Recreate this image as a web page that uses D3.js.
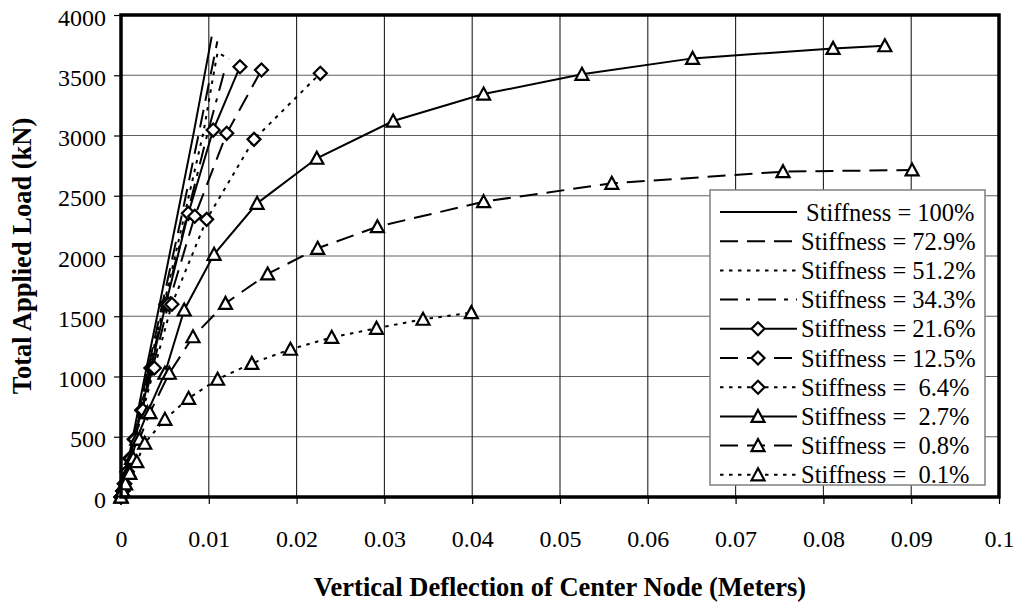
<!DOCTYPE html>
<html><head><meta charset="utf-8">
<script src="https://cdn.jsdelivr.net/npm/d3@7"></script>
<style>
body{margin:0;background:#fff}
svg text{font-family:"Liberation Serif","Times New Roman",Times,serif;fill:#000}
</style></head>
<body><svg id="c" width="1014" height="602" font-family="Liberation Serif"></svg>
<script>
// ---- data (deflection in meters, load in kN) ----
const xTicks = [0,0.01,0.02,0.03,0.04,0.05,0.06,0.07,0.08,0.09,0.1];
const xTickLabels = ["0","0.01","0.02","0.03","0.04","0.05","0.06","0.07","0.08","0.09","0.1"];
const yTicks = [0,500,1000,1500,2000,2500,3000,3500,4000];
const yTickLabels = ["0","500","1000","1500","2000","2500","3000","3500","4000"];
const seriesNames = ["Stiffness = 100%","Stiffness = 72.9%","Stiffness = 51.2%","Stiffness = 34.3%","Stiffness = 21.6%","Stiffness = 12.5%","Stiffness =  6.4%","Stiffness =  2.7%","Stiffness =  0.8%","Stiffness =  0.1%"];

const s100_x  = [0,0.0013,0.0029,0.0044,0.0064,0.0083,0.01033];
const s100_y  = [0,480,1070,1600,2330,3030,3820];
const s729_x  = [0,0.0014,0.0031,0.0047,0.0069,0.0089,0.01097];
const s729_y  = [0,480,1070,1600,2330,3030,3781];
const s512_x  = [0,0.0014,0.0032,0.0049,0.0072,0.0094,0.0104,0.0110,0.0123];
const s512_y  = [0,480,1070,1600,2330,3030,3450,3690,3635];
const s343_x  = [0,0.0015,0.0033,0.0050,0.0075,0.0099,0.0118];
const s343_y  = [0,480,1070,1600,2330,3030,3540];
const s216_x  = [0,0.0002,0.0004,0.0007,0.0010,0.0015,0.00236,0.0034,0.0051,0.00767,0.0105,0.01355];
const s216_y  = [0,50,110,210,320,480,720,1070,1600,2354,3045,3571];
const s125_x  = [0,0.0002,0.0004,0.0007,0.0010,0.0016,0.0024,0.0036,0.0054,0.0084,0.01204,0.0160];
const s125_y  = [0,50,110,210,320,480,720,1070,1600,2330,3018,3544];
const s064_x  = [0,0.0002,0.0004,0.0007,0.0011,0.0016,0.0025,0.0038,0.0058,0.00976,0.01515,0.0227];
const s064_y  = [0,50,110,210,320,480,720,1070,1600,2304,2968,3516];
const s027_x  = [0,0.0002,0.0004,0.0008,0.0012,0.0018,0.0030,0.0050,0.0072,0.0106,0.0155,0.0223,0.0310,0.0413,0.0525,0.0651,0.0811,0.0870];
const s027_y  = [0,50,110,210,320,480,700,1027,1552,2014,2437,2811,3120,3344,3508,3640,3723,3745];
const s008_x  = [0,0.0002,0.0005,0.0009,0.0014,0.0021,0.0033,0.0055,0.0082,0.0119,0.0167,0.0224,0.0292,0.0413,0.0559,0.0754,0.0901];
const s008_y  = [0,50,110,210,320,480,700,1027,1330,1607,1851,2064,2243,2451,2603,2700,2714];
const s001_x  = [0,0.0002,0.0005,0.0010,0.0018,0.0027,0.0050,0.0077,0.0110,0.0149,0.0193,0.0240,0.0291,0.0344,0.0399];
const s001_y  = [0,50,110,196,293,446,645,819,977,1109,1226,1325,1400,1475,1530];

const seriesX = [s100_x,s729_x,s512_x,s343_x,s216_x,s125_x,s064_x,s027_x,s008_x,s001_x];
const seriesY = [s100_y,s729_y,s512_y,s343_y,s216_y,s125_y,s064_y,s027_y,s008_y,s001_y];

// ---- styles ----
const dashes = {solid:null, dash:"18,9", dot:"3.5,5.5", dashdot:"18,8,4,8"};
const styles = [
  {dash:"solid",marker:null},{dash:"dash",marker:null},{dash:"dot",marker:null},{dash:"dashdot",marker:null},
  {dash:"solid",marker:"diamond"},{dash:"dash",marker:"diamond"},{dash:"dot",marker:"diamond"},
  {dash:"solid",marker:"triangle"},{dash:"dash",marker:"triangle"},{dash:"dot",marker:"triangle"}
];

const svg = d3.select("#c");
const x = d3.scaleLinear().domain([0,0.1]).range([121,999]);
const y = d3.scaleLinear().domain([0,4000]).range([497,15]);

// gridlines
svg.append("g").selectAll("line.h").data(yTicks.slice(1,-1)).join("line")
  .attr("x1",x(0)).attr("x2",x(0.1)).attr("y1",d=>y(d)).attr("y2",d=>y(d))
  .attr("stroke","#606060").attr("stroke-width",1.2);
svg.append("g").selectAll("line.v").data(xTicks.slice(1,-1)).join("line")
  .attr("y1",y(0)).attr("y2",y(4000)).attr("x1",d=>x(d)).attr("x2",d=>x(d))
  .attr("stroke","#202020").attr("stroke-width",1.1);

// axes
const xAxis = d3.axisBottom(x).tickValues(xTicks).tickFormat((d,i)=>xTickLabels[i]).tickSize(7);
const gx = svg.append("g").attr("transform",`translate(0,${y(0)})`).call(xAxis);
gx.attr("font-family",null).attr("font-size",null);
gx.select(".domain").remove();
gx.selectAll("line").attr("stroke","#000").attr("stroke-width",1.2);
gx.selectAll("text").attr("font-size",24).attr("dy",null).attr("y",50);

const yAxis = d3.axisLeft(y).tickValues(yTicks).tickFormat((d,i)=>yTickLabels[i]).tickSize(7).tickPadding(8);
const gy = svg.append("g").attr("transform",`translate(${x(0)},0)`).call(yAxis);
gy.attr("font-family",null).attr("font-size",null);
gy.select(".domain").remove();
gy.selectAll("line").attr("stroke","#000").attr("stroke-width",1.2);
gy.selectAll("text").attr("font-size",24).attr("dy",null).attr("y",10);

// series
const plotG = svg.append("g");
const line = d3.line().x(d=>x(d[0])).y(d=>y(d[1]));
const diamond = "M0,-6.5L6.5,0L0,6.5L-6.5,0Z";
const triangle = "M0,-6.5L6.5,5.5L-6.5,5.5Z";
seriesX.forEach((xs,i)=>{
  const pts = xs.map((v,j)=>[v,seriesY[i][j]]);
  const st = styles[i];
  plotG.append("path").attr("d",line(pts)).attr("fill","none").attr("stroke","#000")
    .attr("stroke-width",2).attr("stroke-dasharray",dashes[st.dash]);
  if(st.marker){
    plotG.append("g").selectAll("path").data(pts).join("path")
      .attr("transform",d=>`translate(${x(d[0])},${y(d[1])})`)
      .attr("d",st.marker==="diamond"?diamond:triangle)
      .attr("fill","#fff").attr("stroke","#000").attr("stroke-width",2.2);
  }
});

// plot frame
svg.append("rect").attr("x",x(0)).attr("y",y(4000)).attr("width",x(0.1)-x(0)).attr("height",y(0)-y(4000))
  .attr("fill","none").attr("stroke","#000").attr("stroke-width",3.5);

// legend
const lg = svg.append("g");
lg.append("rect").attr("x",710).attr("y",190).attr("width",275).attr("height",295)
  .attr("fill","#fff").attr("stroke","#808080").attr("stroke-width",1.5);
seriesNames.forEach((name,i)=>{
  const cy = 212 + i*29.2;
  const st = styles[i];
  lg.append("line").attr("x1",720).attr("x2",797).attr("y1",cy).attr("y2",cy)
    .attr("stroke","#000").attr("stroke-width",2).attr("stroke-dasharray",dashes[st.dash]);
  if(st.marker){
    lg.append("path").attr("transform",`translate(758,${cy})`).attr("d",st.marker==="diamond"?diamond:triangle)
      .attr("fill","#fff").attr("stroke","#000").attr("stroke-width",2.2);
  }
  lg.append("text").attr("x",i===0?806:801).attr("y",cy+8.5).attr("font-size",24.5)
    .style("white-space","pre").text(name);
});

// axis titles
svg.append("text").attr("x",(x(0)+x(0.1))/2).attr("y",596).attr("text-anchor","middle")
  .attr("font-size",26.5).attr("font-weight","bold").text("Vertical Deflection of Center Node (Meters)");
svg.append("text").attr("transform",`translate(31,${(y(0)+y(4000))/2}) rotate(-90)`).attr("text-anchor","middle")
  .attr("font-size",26.5).attr("font-weight","bold").text("Total Applied Load (kN)");
</script></body></html>
